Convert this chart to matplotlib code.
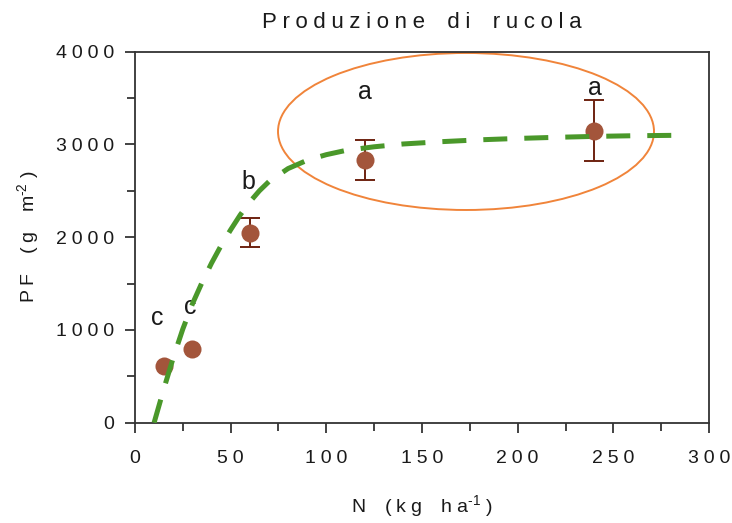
import numpy as np
import matplotlib
matplotlib.use("Agg")
import matplotlib.pyplot as plt
from matplotlib.patches import Ellipse
from matplotlib.ticker import MultipleLocator, FuncFormatter

# dati
n_dose = [15, 30, 60, 120, 240]
pf_media = [611, 795, 2049, 2832, 3150]
pf_es = [np.nan, np.nan, 158, 215, 328]
lettere = ['c', 'c', 'b', 'a', 'a']

# curva di risposta (tratteggiata)
curva_n = [10, 15, 20, 25, 30, 35, 40, 45, 50, 55, 60, 65, 70, 80, 90,
           100, 110, 125, 140, 160, 180, 200, 220, 240, 260, 285]
curva_pf = [0, 360, 700, 1010, 1280, 1510, 1720, 1910, 2080, 2240, 2380,
            2500, 2600, 2740, 2830, 2890, 2935, 2975, 3005, 3030, 3050,
            3065, 3077, 3087, 3094, 3099]

# posizione delle lettere (Tukey)
lettere_xy = [(11.6, 1130), (28.7, 1250), (59.2, 2590), (120, 3570), (240.4, 3605)]

plt.rcParams['font.family'] = ['Liberation Sans', 'DejaVu Sans']
col_testo = '#1a1a1a'

SP = '\u2005'    # spaziatura tra lettere
WSP = '\u2002'   # spazio tra parole


def spaziato(testo):
    parole = testo.split(' ')
    return (SP + WSP + SP).join(SP.join(p) for p in parole)


fig = plt.figure(figsize=(7.32, 5.23), dpi=100)
ax = fig.add_axes([0.1844, 0.1918, 0.7842, 0.7093])

ax.plot(curva_n, curva_pf, color='#4a982a', linewidth=3.6,
        dashes=(4.8, 3.4), zorder=4)
ax.errorbar(n_dose, pf_media, yerr=pf_es, fmt='none', ecolor='#6e2210',
            elinewidth=1.4, capsize=7, capthick=1.4, zorder=2)
ax.plot(n_dose, pf_media, 'o', color='#a3553b', markersize=13,
        markeredgewidth=0, zorder=3)

ax.add_patch(Ellipse((173, 3140), 196.5, 1693, fill=False,
                     edgecolor='#f0843a', linewidth=1.4, zorder=1))

for lett, (xx, yy) in zip(lettere, lettere_xy):
    ax.text(xx, yy, lett, fontsize=18, ha='center', va='center', color=col_testo)

ax.set_xlim(0, 300)
ax.set_ylim(0, 4000)
ax.xaxis.set_major_locator(MultipleLocator(50))
ax.xaxis.set_minor_locator(MultipleLocator(25))
ax.yaxis.set_major_locator(MultipleLocator(1000))
ax.yaxis.set_minor_locator(MultipleLocator(500))
fmt = FuncFormatter(lambda v, p: spaziato(f'{v:.0f}'))
ax.xaxis.set_major_formatter(fmt)
ax.yaxis.set_major_formatter(fmt)

ax.tick_params(which='both', direction='out', top=False, right=False,
               width=1.2, color='#222222')
ax.tick_params(which='major', length=7, labelsize=14, labelcolor=col_testo)
ax.tick_params(which='minor', length=6)
ax.tick_params(axis='x', which='major', pad=13)
ax.tick_params(axis='y', which='major', pad=8)
for sp in ax.spines.values():
    sp.set_linewidth(1.3)
    sp.set_color('#333333')

ax.set_title(spaziato('Produzione di rucola'), fontsize=16,
             pad=17, color=col_testo)
ax.set_xlabel(spaziato('N (kg ha') + r'$^{\mathregular{‐1}}$' + SP + ')',
              fontsize=14, color=col_testo)
ax.xaxis.set_label_coords(0.5, -0.19)
ax.set_ylabel(spaziato('PF (g m') + r'$^{\mathregular{‐2}}$' + SP + ')',
              fontsize=14, labelpad=10, color=col_testo)

fig.savefig('out.png', dpi=100)
